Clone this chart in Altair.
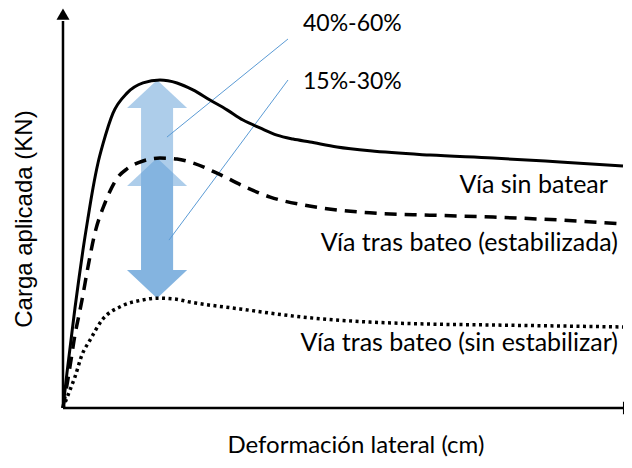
import altair as alt
import pandas as pd

# ---- data (x: deformación lateral, y: carga aplicada; arbitrary units) ----
solid_x = [0, 0.071, 0.143, 0.214, 0.286, 0.357, 0.446, 0.536, 0.625, 0.714, 0.893, 1.143, 1.429, 1.732,
           2.036, 2.321, 2.625, 2.929, 3.214, 3.518, 3.821, 4.107, 4.411, 4.893, 5.482, 6.554, 7.679, 8.875, 10.0]
solid_y = [0, 10.7, 20.7, 30.5, 39.6, 48.2, 57.9, 67.1, 74.7, 80.5, 89.9, 96.0, 99.1, 100.0,
           99.1, 97.0, 93.9, 90.9, 87.8, 85.4, 83.2, 82.0, 81.1, 79.6, 78.4, 77.1, 76.2, 75.0, 73.8]

dashed_x = [0, 0.071, 0.143, 0.214, 0.286, 0.339, 0.446, 0.571, 0.75, 0.982, 1.143, 1.429, 1.732, 2.036,
            2.321, 2.75, 3.29, 3.7, 4.29, 4.89, 5.48, 6.55, 7.68, 8.88, 10.0]
dashed_y = [0, 7.0, 14.6, 22.3, 28.4, 32.9, 43.0, 53.4, 62.5, 70.4, 72.9, 75.3, 76.2, 75.9,
            74.7, 71.6, 67.1, 64.3, 61.9, 60.4, 59.5, 58.8, 58.2, 57.3, 56.1]

dotted_x = [0, 0.054, 0.125, 0.214, 0.339, 0.482, 0.696, 1.05, 1.41, 1.68, 2.0, 2.27, 3.16, 4.29,
            5.48, 6.55, 7.68, 8.88, 10.0]
dotted_y = [0, 2.4, 5.5, 9.5, 16.2, 20.7, 26.8, 31.1, 32.9, 33.5, 33.2, 32.3, 30.2, 27.7,
            26.2, 25.6, 25.3, 25.0, 24.7]

arrow_x = 1.68

series_labels = ["Vía sin batear", "Vía tras bateo (estabilizada)", "Vía tras bateo (sin estabilizar)"]
range_labels = ["40%-60%", "15%-30%"]
x_title = "Deformación lateral (cm)"
y_title = "Carga aplicada (KN)"

# ---- scales / style ----
X_DOM = [-0.982, 10.018]
Y_DOM = [-15.85, 121.95]
xs = alt.Scale(domain=X_DOM, nice=False, zero=False)
ys = alt.Scale(domain=Y_DOM, nice=False, zero=False)
BLUE = "#5b9bd5"
LABEL_FONT = "Lato"


def X(f):
    return alt.X(f, type="quantitative", scale=xs, axis=None)


def Y(f):
    return alt.Y(f, type="quantitative", scale=ys, axis=None)


def curve(xv, yv, dash, width):
    df = pd.DataFrame({"x": xv, "y": yv})
    kw = dict(color="black", strokeWidth=width, interpolate="monotone", strokeCap="butt")
    if dash:
        kw["strokeDash"] = dash
    return alt.Chart(df).mark_line(**kw).encode(x=X("x"), y=Y("y"))


solid = curve(solid_x, solid_y, None, 3)
dashed = curve(dashed_x, dashed_y, [12, 8], 3.5)
dotted = curve(dotted_x, dotted_y, [3, 3.5], 3.5)

# ---- double arrows between the peaks ----
peak_solid = max(solid_y)
peak_dashed = max(dashed_y)
peak_dotted = max(dotted_y)
HH = 8.54          # arrow-head height (y units)
SW = 0.286         # shaft half width (x units)
HEAD_UP = "M-1,0.467L0,-0.467L1,0.467Z"
HEAD_DOWN = "M-1,-0.467L0,0.467L1,-0.467Z"

shaft_df = pd.DataFrame({"x": [arrow_x - SW] * 2, "x2": [arrow_x + SW] * 2,
                         "y": [peak_dotted + HH] * 2, "y2": [peak_solid - HH, peak_dashed - HH]})
shafts = alt.Chart(shaft_df).mark_rect(color=BLUE, opacity=0.5).encode(
    x=X("x"), x2="x2:Q", y=Y("y"), y2="y2:Q")

up_df = pd.DataFrame({"x": [arrow_x] * 2, "y": [peak_solid - HH / 2, peak_dashed - HH / 2]})
heads_up = alt.Chart(up_df).mark_point(shape=HEAD_UP, size=3600, filled=True, color=BLUE, opacity=0.5,
                                       strokeWidth=0).encode(x=X("x"), y=Y("y"))
down_df = pd.DataFrame({"x": [arrow_x] * 2, "y": [peak_dotted + HH / 2] * 2})
heads_down = alt.Chart(down_df).mark_point(shape=HEAD_DOWN, size=3600, filled=True, color=BLUE, opacity=0.5,
                                           strokeWidth=0).encode(x=X("x"), y=Y("y"))

# ---- callout lines ----
call_df = pd.DataFrame({"x": [1.857, 1.893], "y": [82.6, 51.2], "x2": [4.018, 4.018], "y2": [112.5, 100.0]})
callouts = alt.Chart(call_df).mark_rule(color=BLUE, strokeWidth=1).encode(
    x=X("x"), y=Y("y"), x2="x2:Q", y2="y2:Q")

rng_df = pd.DataFrame({"x": [4.286, 4.286], "y": [117.1, 99.4], "t": range_labels})
rng_text = alt.Chart(rng_df).mark_text(align="left", baseline="middle", font=LABEL_FONT, fontSize=23,
                                       color="black").encode(x=X("x"), y=Y("y"), text="t:N")

lab_df = pd.DataFrame({"x": [9.73, 9.91, 9.91], "y": [68.0, 50.3, 19.8], "t": series_labels})
lab_text = alt.Chart(lab_df).mark_text(align="right", baseline="middle", font=LABEL_FONT, fontSize=25,
                                       color="black").encode(x=X("x"), y=Y("y"), text="t:N")

# ---- axes with arrow heads ----
xa_df = pd.DataFrame({"x": [0], "x2": [10.2], "y": [0]})
x_axis = alt.Chart(xa_df).mark_rule(color="black", strokeWidth=2.5).encode(x=X("x"), x2="x2:Q", y=Y("y"))
ya_df = pd.DataFrame({"x": [0], "y": [0], "y2": [118]})
y_axis = alt.Chart(ya_df).mark_rule(color="black", strokeWidth=2.5).encode(x=X("x"), y=Y("y"), y2="y2:Q")
yh_df = pd.DataFrame({"x": [0], "y": [120.1]})
y_head = alt.Chart(yh_df).mark_point(shape="triangle-up", filled=True, size=169, color="black",
                                     opacity=1).encode(x=X("x"), y=Y("y"))
xh_df = pd.DataFrame({"x": [10.1], "y": [0]})
x_head = alt.Chart(xh_df).mark_point(shape="triangle-right", filled=True, size=169, color="black",
                                     opacity=1).encode(x=X("x"), y=Y("y"))

xt_df = pd.DataFrame({"x": [5.23], "y": [-11.6], "t": [x_title]})
x_t = alt.Chart(xt_df).mark_text(font=LABEL_FONT, fontSize=24, baseline="middle", align="center",
                                 color="black").encode(x=X("x"), y=Y("y"), text="t:N")
yt_df = pd.DataFrame({"x": [-0.68], "y": [57.6], "t": [y_title]})
y_t = alt.Chart(yt_df).mark_text(font="Liberation Sans", fontSize=24, angle=270, baseline="middle",
                                 align="center", color="black").encode(x=X("x"), y=Y("y"), text="t:N")

chart = alt.layer(shafts, heads_up, heads_down, callouts, solid, dashed, dotted, x_axis, y_axis,
                  y_head, x_head, rng_text, lab_text, x_t, y_t).properties(
    width=616, height=452, padding=0, autosize=alt.AutoSizeParams(type="none")
).configure_view(stroke=None)

chart.save("out.html", embed_options={"renderer": "svg", "actions": False})
